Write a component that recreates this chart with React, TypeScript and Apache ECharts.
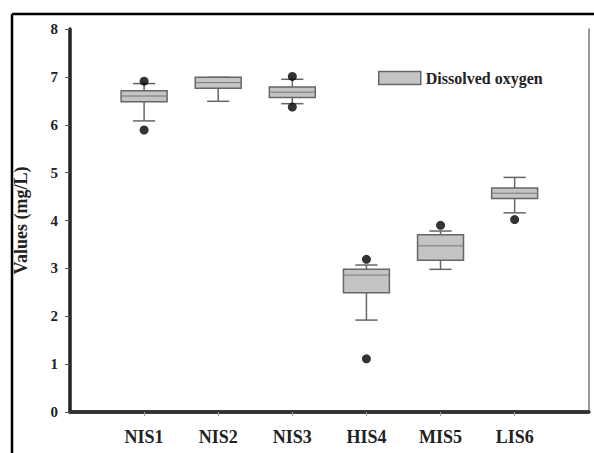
import React, { useEffect, useRef } from "react";
import * as echarts from "echarts";

const categories = ["NIS1", "NIS2", "NIS3", "HIS4", "MIS5", "LIS6"];
const whiskerLow = [6.08, 6.49, 6.44, 1.92, 2.98, 4.16];
const q1 = [6.48, 6.76, 6.57, 2.49, 3.17, 4.46];
const median = [6.6, 6.88, 6.68, 2.86, 3.47, 4.57];
const q3 = [6.71, 6.99, 6.79, 2.98, 3.7, 4.68];
const whiskerHigh = [6.86, 6.99, 6.95, 3.07, 3.78, 4.9];
const outlierCategory = ["NIS1", "NIS1", "NIS3", "NIS3", "HIS4", "HIS4", "MIS5", "LIS6"];
const outlierValue = [6.91, 5.89, 7.01, 6.37, 3.19, 1.11, 3.9, 4.02];
const yTicks = [0, 1, 2, 3, 4, 5, 6, 7, 8];

const seriesName = "Dissolved oxygen";
const font = "'Liberation Serif', 'Times New Roman', serif";

export default function App() {
  const ref = useRef<HTMLDivElement>(null);
  useEffect(() => {
    if (!ref.current) return;
    const chart = echarts.init(ref.current, undefined, { renderer: "svg" });
    const axisCats = ["", ...categories, " "];
    const boxData = categories.map((c, i) => [
      i + 1,
      whiskerLow[i],
      q1[i],
      median[i],
      q3[i],
      whiskerHigh[i],
    ]);
    const outData = outlierCategory.map((c, i) => [categories.indexOf(c) + 1, outlierValue[i]]);
    const option: any = {
      animation: false,
      backgroundColor: "#fff",
      grid: { left: 70, right: 2, top: 29, bottom: 41 },
      legend: {
        data: [seriesName],
        left: 373,
        top: 65,
        icon: "rect",
        itemWidth: 42,
        itemHeight: 13,
        itemGap: 8,
        textStyle: { fontFamily: font, fontWeight: "bold", fontSize: 16, color: "#222" },
        itemStyle: { color: "#c4c4c4", borderColor: "#666", borderWidth: 1.5 },
      },
      xAxis: [
        {
          type: "category",
          data: axisCats,
          boundaryGap: false,
          axisLine: { lineStyle: { color: "#222", width: 3.5 } },
          axisTick: {
            show: true,
            length: 4,
            interval: (idx: number) => idx > 0 && idx < axisCats.length - 1,
            lineStyle: { color: "#999", width: 1 },
          },
          axisLabel: {
            interval: 0,
            margin: 16,
            fontFamily: font,
            fontWeight: "bold",
            fontSize: 18,
            color: "#222",
          },
          splitLine: { show: false },
        },
        {
          type: "category",
          data: axisCats,
          boundaryGap: false,
          position: "top",
          axisLine: { lineStyle: { color: "#333", width: 3.5 } },
          axisTick: { show: false },
          axisLabel: { show: false },
        },
      ],
      yAxis: [
        {
          type: "value",
          min: yTicks[0],
          max: yTicks[yTicks.length - 1],
          interval: 1,
          name: "Values (mg/L)",
          nameLocation: "middle",
          nameRotate: 90,
          nameGap: 40,
          nameTextStyle: { fontFamily: font, fontWeight: "bold", fontSize: 18, color: "#222" },
          axisLine: { show: true, lineStyle: { color: "#222", width: 3.5 } },
          axisTick: { show: true, length: 5, lineStyle: { color: "#555", width: 1 } },
          axisLabel: {
            margin: 12,
            fontFamily: font,
            fontWeight: "bold",
            fontSize: 15,
            color: "#222",
          },
          splitLine: { show: false },
        },
        {
          type: "value",
          min: yTicks[0],
          max: yTicks[yTicks.length - 1],
          interval: 1,
          position: "right",
          axisLine: { show: true, lineStyle: { color: "#777", width: 1.5 } },
          axisTick: { show: false },
          axisLabel: { show: false },
          splitLine: { show: false },
        },
      ],
      graphic: [
        { type: "line", shape: { x1: 12, y1: 14, x2: 594, y2: 14 }, style: { stroke: "#000", lineWidth: 2.5 } },
        { type: "line", shape: { x1: 12, y1: 14, x2: 12, y2: 453 }, style: { stroke: "#000", lineWidth: 2.5 } },
      ],
      series: [
        {
          name: seriesName,
          type: "custom",
          xAxisIndex: 0,
          yAxisIndex: 0,
          itemStyle: { color: "#c4c4c4", borderColor: "#666", borderWidth: 1.5 },
          encode: { x: 0, y: [1, 2, 3, 4, 5] },
          data: boxData,
          renderItem: (params: any, api: any) => {
            const idx = api.value(0);
            const lo = api.coord([idx, api.value(1)]);
            const b1 = api.coord([idx, api.value(2)]);
            const md = api.coord([idx, api.value(3)]);
            const b3 = api.coord([idx, api.value(4)]);
            const hi = api.coord([idx, api.value(5)]);
            const band = api.size([1, 0])[0];
            const bw = band * 0.62;
            const cw = band * 0.3;
            const x = lo[0];
            const wStyle = { stroke: "#666", lineWidth: 1.5 };
            return {
              type: "group",
              children: [
                { type: "line", shape: { x1: x, y1: lo[1], x2: x, y2: b1[1] }, style: wStyle },
                { type: "line", shape: { x1: x, y1: b3[1], x2: x, y2: hi[1] }, style: wStyle },
                { type: "line", shape: { x1: x - cw / 2, y1: lo[1], x2: x + cw / 2, y2: lo[1] }, style: wStyle },
                { type: "line", shape: { x1: x - cw / 2, y1: hi[1], x2: x + cw / 2, y2: hi[1] }, style: wStyle },
                {
                  type: "rect",
                  shape: { x: x - bw / 2, y: b3[1], width: bw, height: b1[1] - b3[1] },
                  style: { fill: "#c4c4c4", stroke: "#666", lineWidth: 1.5 },
                },
                {
                  type: "line",
                  shape: { x1: x - bw / 2, y1: md[1], x2: x + bw / 2, y2: md[1] },
                  style: { stroke: "#777", lineWidth: 1 },
                },
              ],
            };
          },
        },
        {
          name: "outliers",
          type: "scatter",
          xAxisIndex: 0,
          yAxisIndex: 0,
          symbol: "circle",
          symbolSize: 9,
          itemStyle: { color: "#000" },
          data: outData,
          z: 3,
        },
      ],
    };
    chart.setOption(option);
    return () => chart.dispose();
  }, []);
  return (
    <div
      ref={ref}
      style={{ position: "absolute", left: 0, top: 0, width: 594, height: 453, background: "#fff" }}
    />
  );
}
